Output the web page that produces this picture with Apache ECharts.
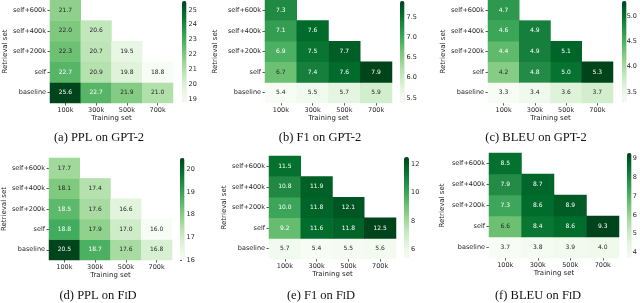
<!DOCTYPE html>
<html><head><meta charset="utf-8">
<script src="https://cdn.jsdelivr.net/npm/echarts@6/dist/echarts.min.js"></script>
<style>html,body{margin:0;padding:0;background:#fff}#c{width:640px;height:303px}</style>
</head><body><div id="c"></div><script>
const trainingSets = ['100k','300k','500k','700k'];
const retrievalSets = ['baseline','self','self+200k','self+400k','self+600k'];
// rows follow retrievalSets order (bottom to top), columns follow trainingSets
const pplGpt2 = [[25.6,22.7,21.9,21.0],[22.7,20.9,19.8,18.8],[22.3,20.7,19.5],[22.0,20.6],[21.7]];
const f1Gpt2 = [[5.4,5.5,5.7,5.9],[6.7,7.4,7.6,7.9],[6.9,7.5,7.7],[7.1,7.6],[7.3]];
const bleuGpt2 = [[3.3,3.4,3.6,3.7],[4.2,4.8,5.0,5.3],[4.4,4.9,5.1],[4.6,4.9],[4.7]];
const pplFid = [[20.5,18.7,17.6,16.8],[18.8,17.9,17.0,16.0],[18.5,17.6,16.6],[18.1,17.4],[17.7]];
const f1Fid = [[5.7,5.4,5.5,5.6],[9.2,11.6,11.8,12.5],[10.0,11.8,12.1],[10.8,11.9],[11.5]];
const bleuFid = [[3.7,3.8,3.9,4.0],[6.6,8.4,8.6,9.3],[7.3,8.6,8.9],[7.9,8.7],[8.5]];
const pplGpt2Ticks = [19,20,21,22,23,24,25];
const f1Gpt2Ticks = [5.5,6.0,6.5,7.0,7.5];
const bleuGpt2Ticks = [3.5,4.0,4.5,5.0];
const pplFidTicks = [16,17,18,19,20];
const f1FidTicks = [6,8,10,12];
const bleuFidTicks = [4,5,6,7,8,9];
const captions = ['(a) PPL on GPT-2','(b) F1 on GPT-2','(c) BLEU on GPT-2','(d) PPL on F{sc|I}D','(e) F1 on F{sc|I}D','(f) BLEU on F{sc|I}D'];

const GREENS = ['#f7fcf5','#e5f5e0','#c7e9c0','#a1d99b','#74c476','#41ab5d','#238b45','#006d2c','#00441b'];
function hex2rgb(h){return [parseInt(h.slice(1,3),16),parseInt(h.slice(3,5),16),parseInt(h.slice(5,7),16)];}
function cmap(t){
  t=Math.max(0,Math.min(1,t)); const p=t*(GREENS.length-1); const i=Math.min(Math.floor(p),GREENS.length-2); const f=p-i;
  const a=hex2rgb(GREENS[i]), b=hex2rgb(GREENS[i+1]);
  return a.map((v,k)=>v+(b[k]-v)*f);
}
function lum(rgb){
  const c=rgb.map(v=>{v/=255;return v<=0.03928?v/12.92:Math.pow((v+0.055)/1.055,2.4);});
  return 0.2126*c[0]+0.7152*c[1]+0.0722*c[2];
}
const FONT='DejaVu Sans', TXT='#262626';
const panels = [
  {data:pplGpt2, ticks:pplGpt2Ticks, dec:0, grid:{left:50,top:0,width:123,height:103}, bar:{left:182,top:1,width:4.5,height:101}, nameX:7, cap:[99,138]},
  {data:f1Gpt2, ticks:f1Gpt2Ticks, dec:1, grid:{left:265,top:0,width:127,height:103}, bar:{left:400,top:1,width:4.5,height:101}, nameX:215, cap:[320,138]},
  {data:bleuGpt2, ticks:bleuGpt2Ticks, dec:1, grid:{left:488,top:0,width:125,height:103}, bar:{left:622,top:1,width:4.5,height:101}, nameX:443, cap:[536,138]},
  {data:pplFid, ticks:pplFidTicks, dec:0, grid:{left:46,top:158,width:126,height:102}, bar:{left:180,top:158,width:4.5,height:102}, nameX:3, cap:[98,296]},
  {data:f1Fid, ticks:f1FidTicks, dec:0, grid:{left:269,top:156,width:127,height:103}, bar:{left:404,top:157,width:5,height:101}, nameX:225, cap:[321,296]},
  {data:bleuFid, ticks:bleuFidTicks, dec:0, grid:{left:489,top:153,width:130,height:105}, bar:{left:627,top:153,width:4.5,height:105}, nameX:442, cap:[538,296]}
];
const option={animation:false,grid:[],xAxis:[],yAxis:[],visualMap:[],series:[],graphic:[]};
panels.forEach((p,i)=>{
  const flat=p.data.flat(); const mn=Math.min(...flat), mx=Math.max(...flat);
  const gi=option.grid.length;
  option.grid.push(Object.assign({containLabel:false},p.grid));
  option.xAxis.push({type:'category',gridIndex:gi,data:trainingSets,position:'bottom',
    axisLine:{show:false},axisTick:{show:true,alignWithLabel:true,length:2.5,lineStyle:{color:'#333',width:0.8}},
    axisLabel:{fontSize:6.5,fontFamily:FONT,color:TXT,margin:4},splitLine:{show:false},
    name:'Training set',nameLocation:'middle',nameGap:12,nameTextStyle:{fontSize:7,fontFamily:FONT,color:TXT}});
  option.yAxis.push({type:'category',gridIndex:gi,data:retrievalSets,
    axisLine:{show:false},axisTick:{show:true,alignWithLabel:true,length:2.5,lineStyle:{color:'#333',width:0.8}},
    axisLabel:{fontSize:6.5,fontFamily:FONT,color:TXT,margin:4},splitLine:{show:false},
    name:'Retrieval set',nameLocation:'middle',nameGap:p.grid.left-p.nameX-4,nameTextStyle:{fontSize:7,fontFamily:FONT,color:TXT}});
  const items=[];
  p.data.forEach((row,r)=>row.forEach((v,c)=>{
    const col=cmap((v-mn)/(mx-mn));
    items.push({value:[c,r,v],label:{color:lum(col)>0.408?TXT:'#ffffff'}});
  }));
  const si=option.series.length;
  option.series.push({type:'heatmap',xAxisIndex:gi,yAxisIndex:gi,data:items,
    label:{show:true,fontSize:6,fontFamily:FONT,formatter:q=>q.value[2].toFixed(1)},
    itemStyle:{borderWidth:0},emphasis:{disabled:true}});
  option.visualMap.push({type:'continuous',seriesIndex:si,dimension:2,min:mn,max:mx,inRange:{color:GREENS},
    show:true,orient:'vertical',left:p.bar.left,top:p.bar.top,itemWidth:p.bar.width,itemHeight:p.bar.height,
    padding:0,calculable:false,hoverLink:false,text:null,textStyle:{fontSize:0}});
  // colorbar axis
  const ci=option.grid.length;
  option.grid.push({left:p.bar.left,top:p.bar.top,width:p.bar.width,height:p.bar.height,containLabel:false});
  option.xAxis.push({type:'value',gridIndex:ci,show:false,min:0,max:1});
  option.yAxis.push({type:'value',gridIndex:ci,position:'right',min:mn,max:mx,
    axisLine:{show:false},splitLine:{show:false},
    axisTick:{show:true,length:2,customValues:p.ticks,lineStyle:{color:'#333',width:0.8}},
    axisLabel:{show:true,customValues:p.ticks,fontSize:6.5,fontFamily:FONT,color:TXT,margin:2,formatter:v=>Number(v).toFixed(p.dec)}});
  option.graphic.push({type:'text',x:p.cap[0],y:p.cap[1],style:{text:captions[i],textAlign:'center',textVerticalAlign:'middle',
    fontSize:12.5,fontFamily:'Liberation Serif',fill:'#111',rich:{sc:{fontSize:9.5,fontFamily:'Liberation Serif',fill:'#111'}}}});
});
const chart=echarts.init(document.getElementById('c'),null,{renderer:'canvas'});
chart.setOption(option);
</script></body></html>
